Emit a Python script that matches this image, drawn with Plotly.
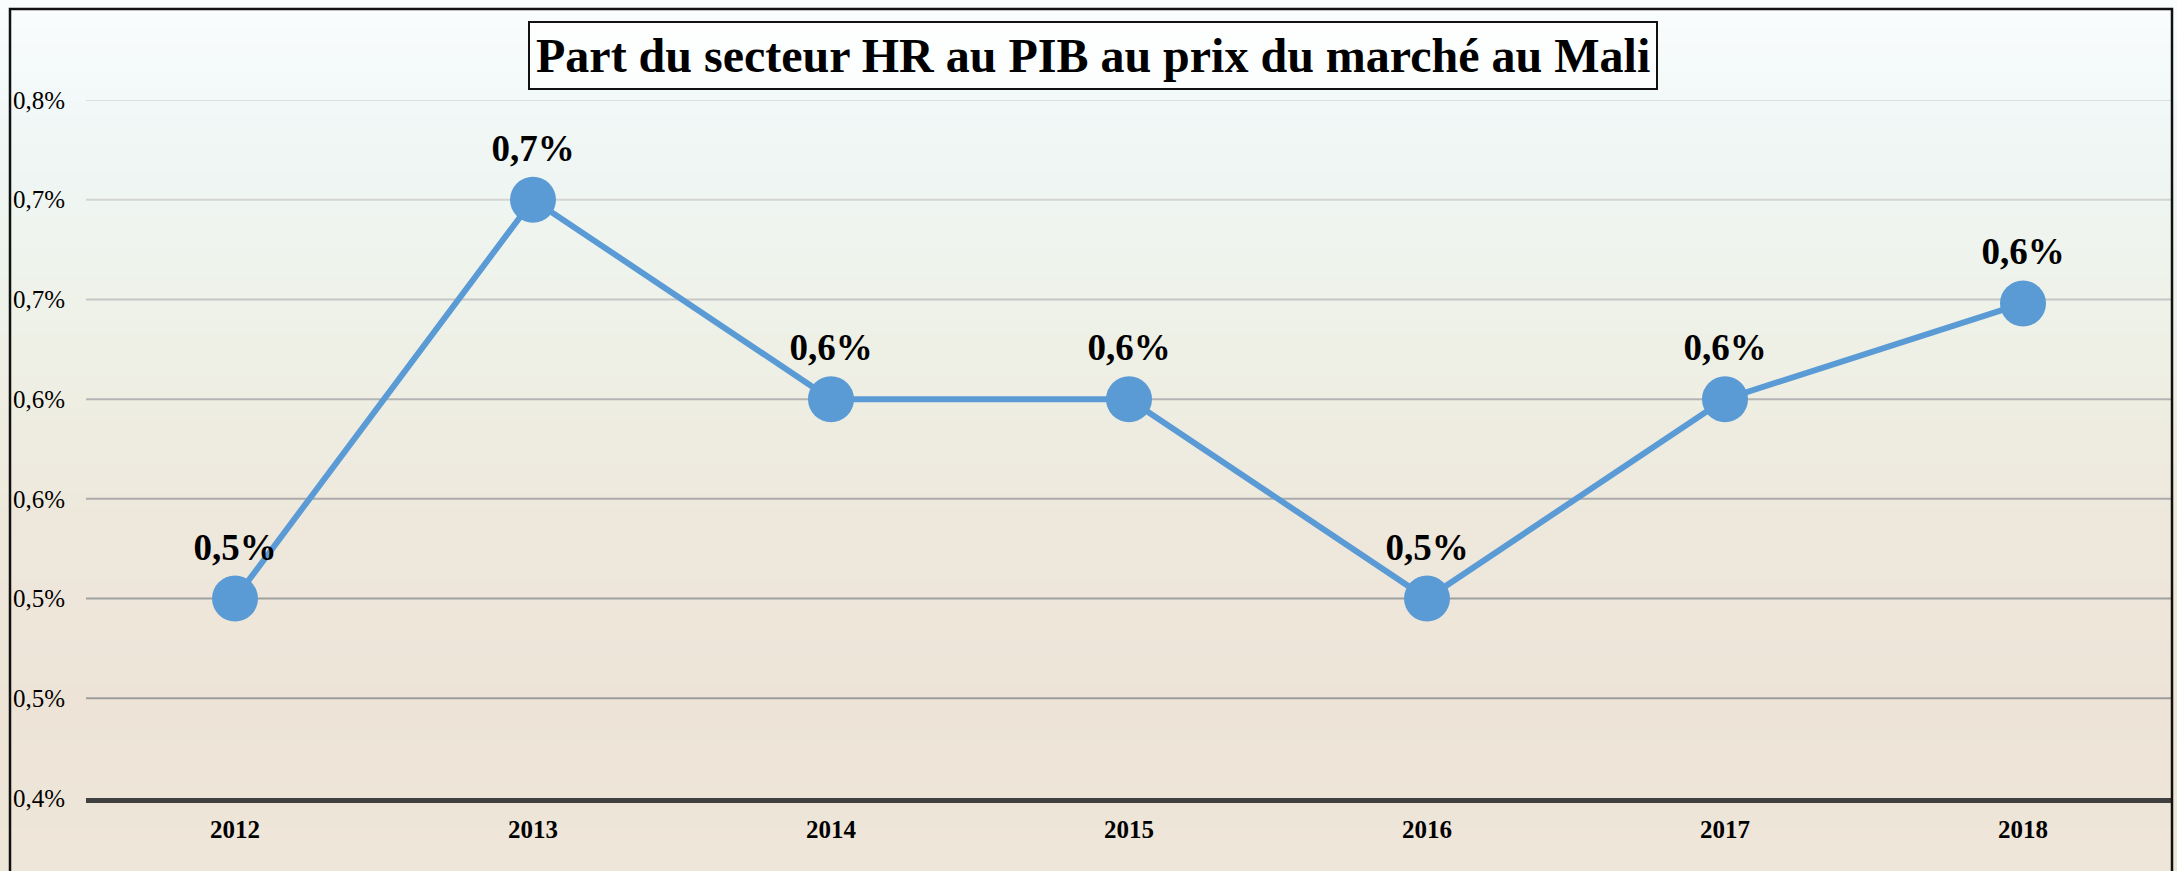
import plotly.graph_objects as go

years = ["2012", "2013", "2014", "2015", "2016", "2017", "2018"]
values = [0.50, 0.70, 0.60, 0.60, 0.50, 0.60, 0.648]
value_labels = ["0,5%", "0,7%", "0,6%", "0,6%", "0,5%", "0,6%", "0,6%"]
tick_vals = [0.40, 0.45, 0.50, 0.55, 0.60, 0.65, 0.70, 0.75]
tick_text = ["0,4%", "0,5%", "0,5%", "0,6%", "0,6%", "0,7%", "0,7%", "0,8%"]
title = "Part du secteur HR au PIB au prix du marché au Mali"

W, H = 2177, 871
ML, MR, MT, MB = 86, 5, 100, 73
PW, PH = W - ML - MR, H - MT - MB

def px_x(px):
    return (px - ML) / PW

def px_y(py):
    return (H - MB - py) / PH

def hex2rgb(h):
    h = h.lstrip("#")
    return tuple(int(h[i:i + 2], 16) for i in (0, 2, 4))

stops = [(0, "#fbfdfd"), (60, "#f5fafa"), (160, "#eff6f4"), (330, "#eef1e7"),
         (520, "#eee8dc"), (700, "#ede4d7"), (871, "#efe6da")]

def color_at(py):
    for (y0, c0), (y1, c1) in zip(stops[:-1], stops[1:]):
        if y0 <= py <= y1:
            t = (py - y0) / (y1 - y0)
            a, b = hex2rgb(c0), hex2rgb(c1)
            return "rgb(%d,%d,%d)" % tuple(round(a[i] + (b[i] - a[i]) * t) for i in range(3))
    return stops[-1][1]

shapes = []
n = 60
for i in range(n):
    y0p = H * i / n
    y1p = H * (i + 1) / n
    shapes.append(dict(type="rect", xref="paper", yref="paper", layer="below",
                       x0=px_x(0), x1=px_x(W), y0=px_y(y1p + 1), y1=px_y(y0p),
                       fillcolor=color_at((y0p + y1p) / 2), line=dict(width=0)))

grid_colors = {0.45: "#9c9c9c", 0.50: "#a0a0a0", 0.55: "#aaaaaa", 0.60: "#b4b4b4",
               0.65: "#c6c6c6", 0.70: "#d4d4d4", 0.75: "#dddddd"}
for v in tick_vals[1:]:
    shapes.append(dict(type="line", xref="paper", yref="y", layer="below",
                       x0=0, x1=1, y0=v, y1=v,
                       line=dict(color=grid_colors.get(round(v, 2), "#bbbbbb"), width=2)))

# outer frame
shapes.append(dict(type="rect", xref="paper", yref="paper", layer="above",
                   x0=px_x(10), x1=px_x(2172), y0=px_y(900), y1=px_y(9),
                   line=dict(color="#111111", width=2.5), fillcolor="rgba(0,0,0,0)"))

fig = go.Figure()
fig.add_trace(go.Scatter(
    x=years, y=values, mode="lines+markers+text",
    line=dict(color="#5B9BD5", width=6),
    marker=dict(size=46, color="#5B9BD5"),
    text=value_labels, textposition="top center",
    textfont=dict(family="Liberation Serif", size=37, color="#000000"),
    cliponaxis=False, hoverinfo="skip", showlegend=False,
))
fig.update_traces(texttemplate="<b>%{text}</b>")

fig.update_layout(
    width=W, height=H,
    margin=dict(l=ML, r=MR, t=MT, b=MB, pad=0),
    paper_bgcolor="#efe6da", plot_bgcolor="rgba(0,0,0,0)",
    font=dict(family="Liberation Serif", color="#000000"),
    shapes=shapes,
    xaxis=dict(type="category", range=[-0.5, 6.5], showgrid=False, zeroline=False,
               showline=True, linecolor="#404040", linewidth=5,
               tickfont=dict(family="Liberation Serif", size=25, color="#000000"),
               tickprefix="<b>", ticksuffix="</b>", ticks="", ticklabelstandoff=5),
    yaxis=dict(range=[0.40, 0.75], tickvals=tick_vals, ticktext=tick_text,
               showgrid=False, zeroline=False, showline=False, ticks="",
               tickfont=dict(family="Liberation Serif", size=25, color="#000000"),
               ticklabelstandoff=20),
    annotations=[dict(text="<b>" + title + "</b>", xref="paper", yref="paper",
                      x=px_x(1093), y=px_y(56), xanchor="center", yanchor="middle",
                      showarrow=False, font=dict(family="Liberation Serif", size=48, color="#000000"),
                      bordercolor="#111111", borderwidth=2, borderpad=6,
                      bgcolor="rgba(255,255,255,0.75)")],
)

fig.write_html("out.html")
